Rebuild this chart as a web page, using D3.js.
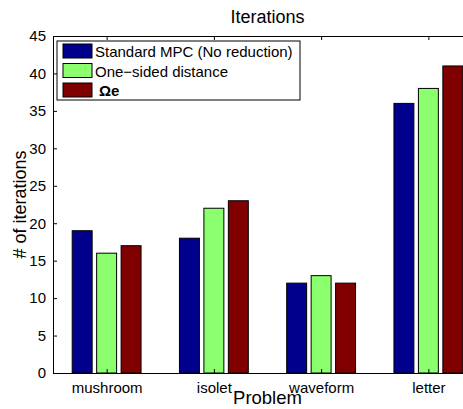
<!DOCTYPE html>
<html>
<head>
<meta charset="utf-8">
<script src="https://cdn.jsdelivr.net/npm/d3@7"></script>
<style>
  html, body { margin: 0; padding: 0; background: #fff; }
  svg { display: block; font-family: "Liberation Sans", Arial, Helvetica, sans-serif; }
</style>
</head>
<body>
<svg id="chart" width="463" height="409"></svg>
<script>
// Iteration counts per problem for each method
const problems = ["mushroom", "isolet", "waveform", "letter"];
const seriesNames = ["Standard MPC (No reduction)", "One\u2212sided distance", "\u03A9e"];
const standardMPC = [19, 18, 12, 36];
const oneSided = [16, 22, 13, 38];
const omegaE = [17, 23, 12, 41];
const yTicks = [0, 5, 10, 15, 20, 25, 30, 35, 40, 45];
const colors = ["#00008c", "#8cff6e", "#800000"];

const series = [standardMPC, oneSided, omegaE];

const svg = d3.select("#chart");
const plot = { left: 53, right: 482, top: 36, bottom: 373 };

const x = d3.scaleLinear().domain([0.5, problems.length + 0.5]).range([plot.left, plot.right]);
const y = d3.scaleLinear().domain([0, 45]).range([plot.bottom, plot.top]);

const unit = x(1) - x(0);
const barW = 0.186 * unit;
const step = 0.228 * unit;

// bars
series.forEach((vals, s) => {
  svg.append("g")
    .selectAll("rect")
    .data(vals)
    .join("rect")
    .attr("x", (d, i) => x(i + 1) + (s - 1) * step - barW / 2)
    .attr("y", d => y(d))
    .attr("width", barW)
    .attr("height", d => y(0) - y(d))
    .attr("fill", colors[s])
    .attr("stroke", "#000")
    .attr("stroke-width", 1);
});

// axes (ticks pointing inward, box on)
const fontTick = "15px";
const xb = svg.append("g").attr("transform", `translate(0,${plot.bottom})`)
  .call(d3.axisBottom(x).tickValues(d3.range(1, problems.length + 1))
    .tickFormat(d => problems[d - 1]).tickSize(-4).tickSizeOuter(0).tickPadding(9));
const xt = svg.append("g").attr("transform", `translate(0,${plot.top})`)
  .call(d3.axisTop(x).tickValues(d3.range(1, problems.length + 1))
    .tickFormat("").tickSize(-4).tickSizeOuter(0));
const yl = svg.append("g").attr("transform", `translate(${plot.left},0)`)
  .call(d3.axisLeft(y).tickValues(yTicks).tickSize(-4).tickSizeOuter(0).tickPadding(7));
const yr = svg.append("g").attr("transform", `translate(${plot.right},0)`)
  .call(d3.axisRight(y).tickValues(yTicks).tickFormat("").tickSize(-4).tickSizeOuter(0));

[xb, xt, yl, yr].forEach(g => {
  g.selectAll("path.domain").attr("stroke", "#000").attr("stroke-width", 1);
  g.selectAll(".tick line").attr("stroke", "#000");
  g.selectAll("text").attr("fill", "#000").style("font-size", fontTick)
    .style("font-family", "'Liberation Sans', Arial, sans-serif");
});

// titles
svg.append("text").attr("x", (plot.left + plot.right) / 2).attr("y", 23)
  .attr("text-anchor", "middle").style("font-size", "18px").text("Iterations");
svg.append("text").attr("x", (plot.left + plot.right) / 2).attr("y", 404)
  .attr("text-anchor", "middle").style("font-size", "18.5px").text("Problem");
svg.append("text").attr("transform", `translate(26,${(plot.top + plot.bottom) / 2}) rotate(-90)`)
  .attr("text-anchor", "middle").style("font-size", "18px").text("# of iterations");

// legend
const lg = svg.append("g").attr("transform", "translate(57,41)");
lg.append("rect").attr("width", 243).attr("height", 59)
  .attr("fill", "#fff").attr("stroke", "#000").attr("stroke-width", 1);
seriesNames.forEach((name, i) => {
  const row = lg.append("g").attr("transform", `translate(0,${3 + i * 19.5})`);
  row.append("rect").attr("x", 6).attr("y", 0).attr("width", 29).attr("height", 14)
    .attr("fill", colors[i]).attr("stroke", "#000").attr("stroke-width", 1);
  row.append("text").attr("x", i === 2 ? 42 : 38).attr("y", 13)
    .style("font-size", "15px")
    .style("font-weight", i === 2 ? "bold" : "normal")
    .text(name);
});
</script>
</body>
</html>
